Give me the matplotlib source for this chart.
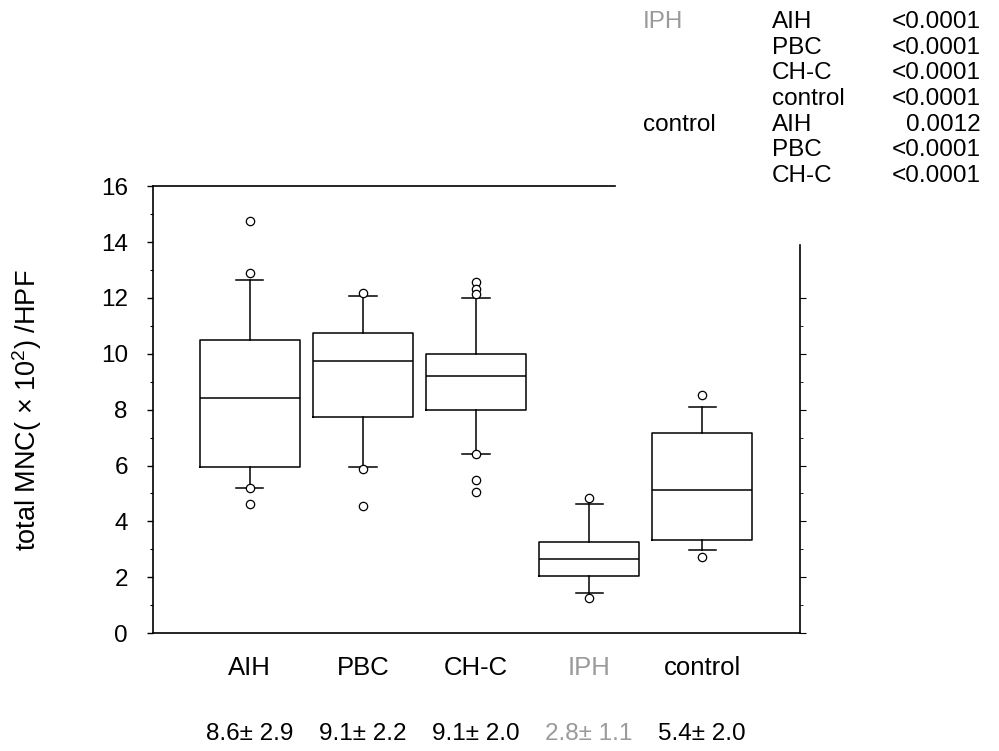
import matplotlib
matplotlib.use("Agg")
import matplotlib.pyplot as plt
import numpy as np

plt.rcParams.update({
    "font.family": ["Liberation Sans", "DejaVu Sans"],
    "mathtext.fontset": "custom",
    "mathtext.rm": "Liberation Sans",
})

groups = ["AIH", "PBC", "CH-C", "IPH", "control"]
q1 = [5.95, 7.75, 7.98, 2.05, 3.33]
medians = [8.40, 9.75, 9.21, 2.64, 5.12]
q3 = [10.49, 10.73, 10.01, 3.27, 7.17]
whis_lo = [5.20, 5.95, 6.41, 1.42, 2.97]
whis_hi = [12.63, 12.06, 12.01, 4.62, 8.08]
fliers = [
    [14.76, 12.90, 5.20, 4.64],
    [12.16, 5.87, 4.55],
    [12.57, 12.33, 12.13, 6.41, 5.48, 5.06],
    [4.82, 1.26],
    [8.54, 2.71],
]
summary = ["8.6\u00b1 2.9", "9.1\u00b1 2.2", "9.1\u00b1 2.0", "2.8\u00b1 1.1", "5.4\u00b1 2.0"]
label_colors = ["black", "black", "black", "#9a9a9a", "black"]

# pairwise p-values table (reference group, compared group, p)
p_ref = ["IPH", "", "", "", "control", "", ""]
p_cmp = ["AIH", "PBC", "CH-C", "control", "AIH", "PBC", "CH-C"]
p_val = ["<0.0001", "<0.0001", "<0.0001", "<0.0001", "0.0012", "<0.0001", "<0.0001"]

fig = plt.figure(figsize=(9.99, 7.51), dpi=100)
ax = fig.add_axes([0.153, 0.157, 0.648, 0.595])

stats = []
for i, g in enumerate(groups):
    stats.append(dict(label=g, q1=q1[i], med=medians[i], q3=q3[i],
                      whislo=whis_lo[i], whishi=whis_hi[i], fliers=fliers[i]))

pos = np.arange(1, len(groups) + 1)
ax.bxp(stats, positions=pos, widths=0.885, capwidths=0.24, showfliers=True,
       boxprops=dict(color="black", linewidth=1.1),
       medianprops=dict(color="black", linewidth=1.1),
       whiskerprops=dict(color="black", linewidth=1.1),
       capprops=dict(color="black", linewidth=1.1),
       flierprops=dict(marker="o", markerfacecolor="white", markeredgecolor="black",
                       markersize=6, markeredgewidth=0.9))

xlo, xhi = 0.142, 5.867
ax.set_xlim(xlo, xhi)
ax.set_ylim(0, 16)
ax.set_yticks(np.arange(0, 17, 2))
ax.set_yticks(np.arange(1, 16, 2), minor=True)
ax.tick_params(axis="y", which="major", direction="out", length=4, width=1,
               labelsize=17.5, pad=14)
ax.tick_params(axis="y", which="minor", direction="out", length=2.5, width=0.8)
ax.set_xticks([])

for s in ax.spines.values():
    s.set_linewidth(1.2)
ax.spines["top"].set_bounds(xlo, xlo + (xhi - xlo) * 0.714)
ax.spines["right"].set_bounds(0, 13.9)

ax2 = ax.twinx()
ax2.set_ylim(0, 16)
ax2.set_yticks(np.arange(0, 13, 2))
ax2.set_yticks(np.arange(1, 13, 2), minor=True)
ax2.tick_params(axis="y", which="major", direction="out", length=4, width=0.8, labelright=False)
ax2.tick_params(axis="y", which="minor", direction="out", length=2.5, width=0.6)
for s in ax2.spines.values():
    s.set_visible(False)

for i, g in enumerate(groups):
    ax.text(pos[i], -0.078, g, transform=ax.get_xaxis_transform(), ha="center",
            va="center", fontsize=18.5, color=label_colors[i])
    ax.text(pos[i], -0.226, summary[i], transform=ax.get_xaxis_transform(), ha="center",
            va="center", fontsize=17.5, color=label_colors[i])

fig.text(27 / 999, 1 - 410 / 751, r"total MNC( $\times$ 10$^{2}$) /HPF", rotation=90,
         ha="center", va="center", fontsize=19.5)

row_y = [22, 48, 73, 99, 125, 150, 176]
for i in range(len(p_cmp)):
    y = 1 - row_y[i] / 751
    c0 = "#9a9a9a" if p_ref[i] == "IPH" else "black"
    fig.text(643 / 999, y, p_ref[i], ha="left", va="center", fontsize=17.5, color=c0)
    fig.text(772 / 999, y, p_cmp[i], ha="left", va="center", fontsize=17.5)
    fig.text(981 / 999, y, p_val[i], ha="right", va="center", fontsize=17.5)

fig.savefig("out.png", dpi=100)
